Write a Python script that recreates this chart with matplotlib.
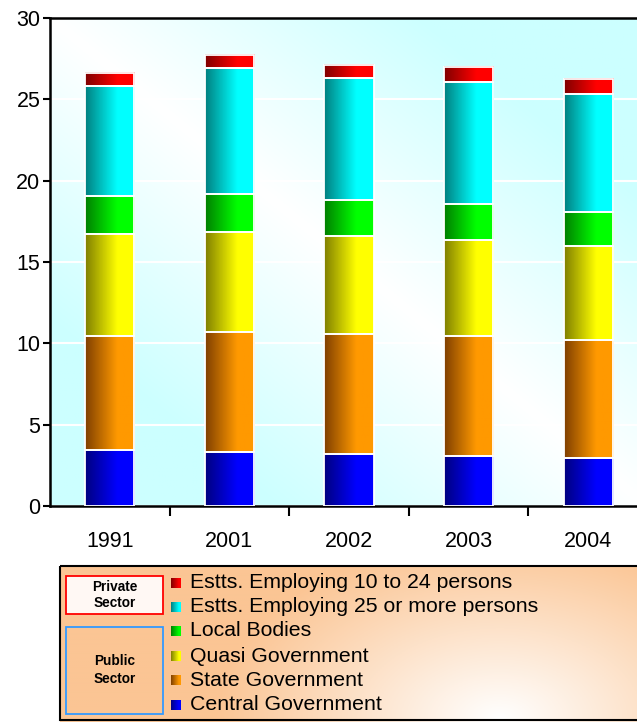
import numpy as np
import matplotlib.pyplot as plt
from matplotlib.patches import Rectangle
from matplotlib.colors import to_rgb

plt.rcParams['font.family'] = ['Liberation Sans', 'DejaVu Sans']

# data (millions of persons)
years = ['1991', '2001', '2002', '2003', '2004']
central_govt = [3.42, 3.30, 3.18, 3.05, 2.93]
state_govt = [7.01, 7.38, 7.37, 7.38, 7.25]
quasi_govt = [6.27, 6.16, 6.02, 5.90, 5.78]
local_bodies = [2.33, 2.32, 2.22, 2.21, 2.09]
estts_25_more = [6.77, 7.74, 7.50, 7.50, 7.25]
estts_10_24 = [0.80, 0.82, 0.81, 0.94, 0.94]

series = [
    ('Central Government', central_govt, '#000080', '#0000FF'),
    ('State Government', state_govt, '#804000', '#FF9900'),
    ('Quasi Government', quasi_govt, '#808000', '#FFFF00'),
    ('Local Bodies', local_bodies, '#008000', '#00FF00'),
    ('Estts. Employing 25 or more persons', estts_25_more, '#008080', '#00FFFF'),
    ('Estts. Employing 10 to 24 persons', estts_10_24, '#800000', '#FF0000'),
]


def hgrad(dark, bright, n=64, frac=0.65):
    t = np.clip(np.linspace(0, 1, n) / frac, 0, 1)
    d = np.array(to_rgb(dark))
    b = np.array(to_rgb(bright))
    return (d[None, :] * (1 - t[:, None]) + b[None, :] * t[:, None])[None, :, :]


W, H = 637, 722
fig = plt.figure(figsize=(W / 100, H / 100), dpi=100)
fig.patch.set_facecolor('white')

# main plot area (right part runs off the picture)
ax = fig.add_axes([50 / W, (H - 506) / H, 598 / W, 488 / H])

# diagonal background: white along top-left -> bottom-right, light cyan in the corners
u, v = np.meshgrid(np.linspace(0, 1, 200), np.linspace(1, 0, 200))
t = np.clip(np.abs(u + v - 1) * 1.6, 0, 1)
cyan = np.array(to_rgb('#CCFFFF'))
bg = np.ones((200, 200, 3)) * (1 - t[..., None]) + cyan * t[..., None]
ax.imshow(bg, extent=[-0.5, 4.5, 0, 30], aspect='auto', zorder=0)

x = np.arange(len(years))
bw = 0.41
bottoms = np.zeros(len(years))
for name, vals, dark, bright in series:
    img = hgrad(dark, bright)
    for i, val in enumerate(vals):
        x0 = x[i] - bw / 2
        ax.imshow(img, extent=[x0, x0 + bw, bottoms[i], bottoms[i] + val],
                  aspect='auto', zorder=3, interpolation='bilinear')
        ax.add_patch(Rectangle((x0, bottoms[i]), bw, val, fill=False,
                               edgecolor='white', linewidth=1.3, zorder=4))
    bottoms += np.array(vals)

ax.set_xlim(-0.5, 4.5)
ax.set_ylim(0, 30)
ax.set_yticks(range(0, 31, 5))
ax.yaxis.grid(True, color='white', linewidth=1.5)
ax.set_axisbelow(True)
ax.set_xticks(x + 0.5)
ax.set_xticklabels([])
ax.set_xticks(x, minor=True)
ax.set_xticklabels(years, minor=True, fontsize=15.5)
ax.tick_params(axis='x', which='minor', length=0, pad=18)
ax.tick_params(axis='x', which='major', length=7, width=1.5, direction='out')
ax.tick_params(axis='y', length=5, width=1.5, direction='out', labelsize=15.5, pad=2)
for s in ['left', 'bottom', 'top']:
    ax.spines[s].set_linewidth(1.8)
ax.spines['right'].set_visible(False)

# legend panel in pixel coordinates
lax = fig.add_axes([0, 0, 1, 1], zorder=5)
lax.set_xlim(0, W)
lax.set_ylim(H, 0)
lax.axis('off')
lax.patch.set_alpha(0)

gx, gy = np.meshgrid(np.linspace(60, 700, 320), np.linspace(566, 722, 80))
r = np.sqrt(((gx - 500) / 1.3) ** 2 + ((gy - 720) * 1.2) ** 2)
tt = np.clip(r / 220, 0, 1)
peach = np.array(to_rgb('#FBC594'))
lg = np.ones(gx.shape + (3,)) * (1 - tt[..., None]) + peach * tt[..., None]
lax.imshow(lg, extent=[60, 700, 722, 566], aspect='auto', zorder=1)
lax.add_patch(Rectangle((60, 566), 640, 154, fill=False, edgecolor='black', linewidth=1.5, zorder=2))

lax.add_patch(Rectangle((66, 576), 97, 38, facecolor='#FFF8F4', edgecolor='#FF0000', linewidth=1.3, zorder=3))
lax.text(114.5, 595, 'Private\nSector', ha='center', va='center', fontsize=9.8,
         fontweight='bold', linespacing=1.25, zorder=4)
lax.add_patch(Rectangle((66, 627), 97, 87, facecolor='none', edgecolor='#3399FF', linewidth=1.3, zorder=3))
lax.text(114.5, 670, 'Public\nSector', ha='center', va='center', fontsize=9.8,
         fontweight='bold', linespacing=1.45, zorder=4)

row_y = [583, 607, 631, 656, 680, 705]
for (name, vals, dark, bright), yy in zip(series[::-1], row_y):
    lax.imshow(hgrad(dark, bright, frac=0.8), extent=[171, 181, yy + 5, yy - 5],
               aspect='auto', zorder=3, interpolation='bilinear')
    lax.text(190, yy, name, ha='left', va='center', fontsize=15.3, zorder=4)

fig.savefig('out.png', dpi=100)
